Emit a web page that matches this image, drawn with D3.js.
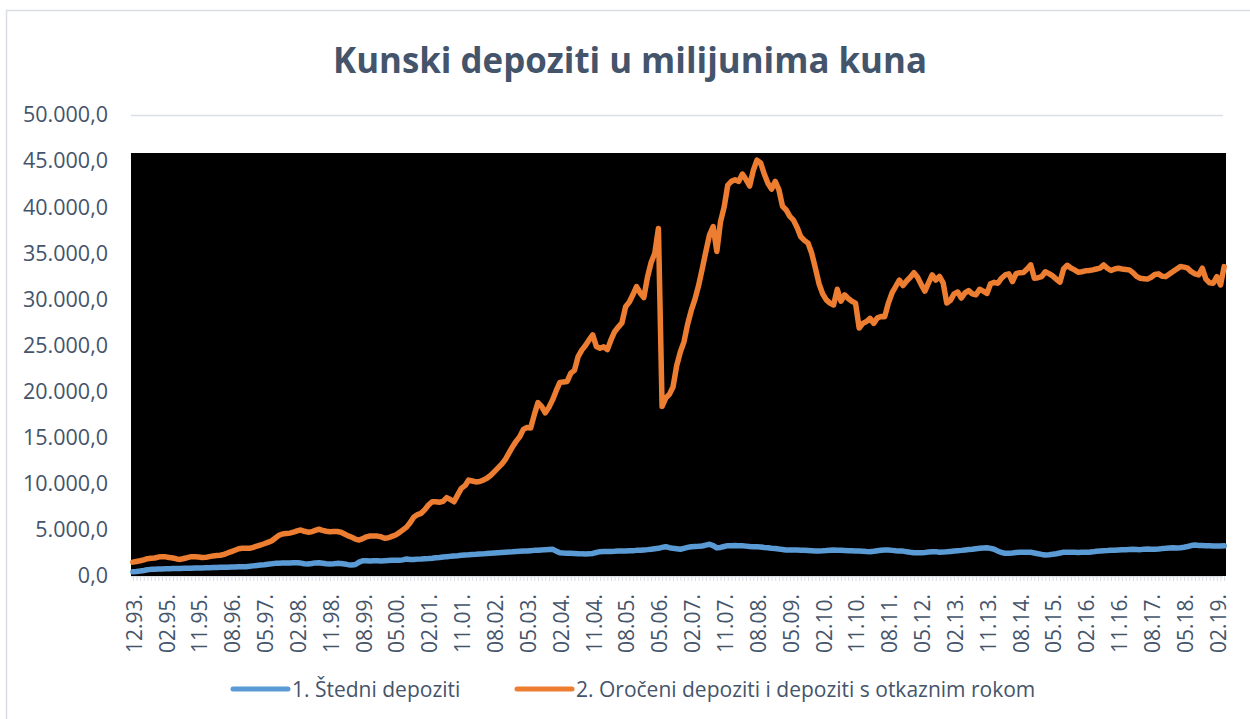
<!DOCTYPE html>
<meta charset="utf-8">

<script src="https://cdn.jsdelivr.net/npm/d3@7"></script>

<div id="my_dataviz"></div>
<style>
    body { margin: 0; background: white; }
    text { font-family: "Open Sans", sans-serif; fill: #44546A; }
</style>

<script>
    // month labels: 12.93, then monthly 06.94 .. 04.19
    var startLabel = "12.93.";
    var firstMonth = { month: 6, year: 1994 };
    var monthCount = 299;

    // labels shown on the x axis
    var tickLabels = ["12.93.", "02.95.", "11.95.", "08.96.", "05.97.", "02.98.", "11.98.", "08.99.",
        "05.00.", "02.01.", "11.01.", "08.02.", "05.03.", "02.04.", "11.04.", "08.05.", "05.06.",
        "02.07.", "11.07.", "08.08.", "05.09.", "02.10.", "11.10.", "08.11.", "05.12.", "02.13.",
        "11.13.", "08.14.", "05.15.", "02.16.", "11.16.", "08.17.", "05.18.", "02.19."];

    var yTicks = [0, 5000, 10000, 15000, 20000, 25000, 30000, 35000, 40000, 45000, 50000];

    var seriesNames = ["1. Štedni depoziti", "2. Oročeni depoziti i depoziti s otkaznim rokom"];

    var stedni = [
        470, 500, 540, 600, 680, 720, 740, 760, 770, 780,
        790, 800, 810, 820, 830, 840, 850, 860, 870, 880,
        890, 900, 910, 920, 940, 950, 960, 970, 980, 990,
        1000, 1010, 1050, 1100, 1150, 1190, 1230, 1280, 1320, 1370,
        1390, 1400, 1410, 1420, 1440, 1440, 1400, 1330, 1300, 1350,
        1420, 1440, 1380, 1320, 1300, 1330, 1370, 1360, 1300, 1230,
        1190, 1250, 1500, 1660, 1650, 1640, 1660, 1650, 1640, 1660,
        1680, 1700, 1720, 1700, 1750, 1850, 1800, 1780, 1830, 1850,
        1880, 1900, 1930, 1970, 2000, 2050, 2100, 2130, 2170, 2200,
        2240, 2280, 2300, 2330, 2350, 2380, 2400, 2430, 2460, 2490,
        2520, 2550, 2580, 2600, 2620, 2650, 2680, 2700, 2720, 2750,
        2780, 2800, 2830, 2860, 2880, 2900, 2700, 2530, 2500, 2480,
        2460, 2440, 2420, 2400, 2390, 2400, 2450, 2550, 2640, 2650,
        2660, 2670, 2680, 2700, 2710, 2720, 2740, 2750, 2780, 2800,
        2830, 2860, 2900, 2950, 3000, 3100, 3180, 3070, 3000, 2950,
        2900, 3000, 3100, 3180, 3200, 3220, 3250, 3350, 3440, 3300,
        3050, 3100, 3200, 3290, 3290, 3300, 3290, 3270, 3240, 3200,
        3180, 3170, 3150, 3100, 3070, 3020, 2980, 2920, 2870, 2820,
        2810, 2820, 2820, 2800, 2780, 2760, 2740, 2720, 2710, 2730,
        2760, 2800, 2820, 2800, 2780, 2760, 2740, 2730, 2720, 2710,
        2690, 2660, 2640, 2680, 2740, 2790, 2820, 2820, 2780, 2740,
        2710, 2700, 2640, 2580, 2530, 2520, 2530, 2560, 2600, 2630,
        2640, 2570, 2590, 2620, 2660, 2700, 2740, 2780, 2830, 2870,
        2900, 2950, 3000, 3040, 3070, 3000, 2900, 2700, 2550, 2460,
        2470, 2500, 2540, 2570, 2570, 2580, 2570, 2500, 2420, 2340,
        2280, 2300, 2350, 2420, 2500, 2570, 2580, 2580, 2570, 2560,
        2570, 2580, 2570, 2620, 2680, 2720, 2750, 2760, 2780, 2800,
        2820, 2840, 2860, 2880, 2900, 2880, 2860, 2900, 2920, 2900,
        2900, 2930, 2970, 3000, 3040, 3070, 3050, 3070, 3120, 3200,
        3300, 3360, 3320, 3300, 3280, 3270, 3260, 3250, 3250, 3270
    ];

    var oroceni = [
        1500, 1580, 1650, 1750, 1880, 1930, 1950, 2050, 2100, 2080,
        2000, 1950, 1850, 1800, 1900, 2000, 2100, 2080, 2050, 2000,
        2020, 2100, 2180, 2220, 2250, 2350, 2500, 2640, 2800, 2950,
        3000, 3020, 3000, 3100, 3250, 3360, 3500, 3650, 3800, 4100,
        4400, 4550, 4600, 4650, 4750, 4900, 4990, 4850, 4750, 4800,
        4950, 5070, 4950, 4850, 4800, 4820, 4830, 4750, 4550, 4350,
        4200, 4000, 3900, 4050, 4250, 4340, 4350, 4330, 4250, 4100,
        4150, 4300, 4450, 4700, 5000, 5300, 5800, 6400, 6650, 6800,
        7200, 7700, 8050, 8050, 8000, 8100, 8500, 8300, 8050, 8800,
        9500, 9800, 10400, 10300, 10200, 10250, 10400, 10600, 10900, 11300,
        11700, 12100, 12600, 13300, 14000, 14600, 15100, 15900, 16100, 16050,
        17500, 18800, 18400, 17700, 18300, 19100, 20100, 21000, 21050, 21100,
        22000, 22300, 23800, 24500, 25000, 25600, 26150, 24900, 24700, 24850,
        24550, 25600, 26500, 27000, 27450, 29200, 29700, 30500, 31400, 30700,
        30200, 32400, 34000, 35000, 37700, 18400, 19300, 19700, 20500, 22800,
        24300, 25400, 27300, 28800, 30000, 31500, 33300, 35200, 37000, 37900,
        35200, 38400, 40000, 42400, 42800, 42970, 42800, 43600, 43000, 42300,
        44000, 45100, 44800, 43600, 42600, 41960, 42800, 41900, 40100, 39700,
        39000, 38600, 37800, 36800, 36400, 36100, 35000, 33400, 31700, 30600,
        29950, 29600, 29400, 31100, 29800, 30500, 30100, 29800, 29600, 26900,
        27400, 27600, 27950, 27400, 28000, 28150, 28130, 29600, 30700, 31400,
        32100, 31500, 32000, 32400, 32900, 32400, 31600, 30900, 31800, 32650,
        32100, 32500, 31800, 29600, 29900, 30600, 30800, 30150, 30700, 30950,
        30600, 30500, 31100, 30900, 30650, 31700, 31850, 31750, 32300, 32650,
        32770, 31930, 32800, 32900, 32920, 33300, 33740, 32300, 32350, 32470,
        33000, 32800, 32550, 32200, 31860, 33300, 33700, 33400, 33200, 32950,
        33000, 33100, 33130, 33200, 33300, 33400, 33740, 33380, 33130, 33300,
        33380, 33300, 33250, 33200, 32900, 32500, 32300, 32250, 32200, 32400,
        32700, 32770, 32500, 32470, 32750, 33020, 33300, 33560, 33500, 33380,
        33000, 32770, 32660, 33380, 32200, 31800, 31750, 32470, 31570, 33560
    ];

    var colors = ["#5B9BD5", "#ED7D31"];

    // build category labels
    var categories = [startLabel];
    for (var k = 0; k < monthCount; k++) {
        var m = (firstMonth.month - 1 + k) % 12 + 1;
        var yr = firstMonth.year + Math.floor((firstMonth.month - 1 + k) / 12);
        categories.push((m < 10 ? "0" : "") + m + "." + String(yr).slice(2) + ".");
    }

    var W = 1250, H = 719;
    var plot = { left: 131, right: 1226, top: 115, bottom: 576, blackTop: 153 };

    var svg = d3.select("#my_dataviz")
        .append("svg")
        .attr("width", W)
        .attr("height", H);

    // chart border (only left and top fall inside the picture)
    svg.append("rect")
        .attr("x", 6.5).attr("y", 10.5)
        .attr("width", 1400).attr("height", 900)
        .attr("fill", "white")
        .attr("stroke", "#D9DDE3")
        .attr("stroke-width", 1.5);

    var x = d3.scalePoint()
        .domain(categories)
        .range([plot.left, plot.right])
        .padding(0.5);

    var y = d3.scaleLinear()
        .domain([0, 50000])
        .range([plot.bottom, plot.top]);

    var fmt = function(v) {
        var s = d3.format(",.1f")(v);
        return s.replace(/,/g, "#").replace(".", ",").replace(/#/g, ".");
    };

    // gridlines
    svg.append("g")
        .selectAll("line")
        .data(yTicks)
        .enter()
        .append("line")
        .attr("x1", plot.left)
        .attr("x2", plot.right - 3)
        .attr("y1", function(d) { return y(d) + 0.5; })
        .attr("y2", function(d) { return y(d) + 0.5; })
        .attr("stroke", "#DCE0E6")
        .attr("stroke-width", 1.5);

    // black plot fill
    svg.append("rect")
        .attr("x", plot.left)
        .attr("y", plot.blackTop)
        .attr("width", plot.right - plot.left)
        .attr("height", plot.bottom - plot.blackTop)
        .attr("fill", "black");

    // Y axis labels
    var yAxis = svg.append("g")
        .attr("transform", "translate(" + (plot.left - 16) + ",0)")
        .call(d3.axisLeft(y).tickValues(yTicks).tickSize(0).tickFormat(fmt));
    yAxis.select(".domain").remove();
    yAxis.selectAll("text")
        .attr("x", -7)
        .style("font-size", "21.5px")
        .style("font-family", "Open Sans, sans-serif")
        .attr("fill", "#44546A");

    // X axis: tick marks at every category
    var xAxis = svg.append("g")
        .attr("transform", "translate(0," + plot.bottom + ")")
        .call(d3.axisBottom(x).tickSize(5).tickFormat(""));
    xAxis.select(".domain").remove();
    xAxis.selectAll("line").attr("stroke", "#D6DCE4");

    svg.append("g")
        .selectAll("text")
        .data(tickLabels)
        .enter()
        .append("text")
        .attr("transform", function(d, i) {
            return "translate(" + (x(categories[i * 9]) + 1.5) + "," + (plot.bottom + 18) + ") rotate(-90)";
        })
        .attr("text-anchor", "end")
        .attr("dy", "0.35em")
        .style("font-size", "21px")
        .text(function(d) { return d; });

    // lines
    var line = d3.line()
        .x(function(d, i) { return x(categories[i]); })
        .y(function(d) { return y(d); });

    [stedni, oroceni].forEach(function(s, k) {
        svg.append("path")
            .datum(s)
            .attr("fill", "none")
            .attr("stroke", colors[k])
            .attr("stroke-width", 5.5)
            .attr("stroke-linejoin", "round")
            .attr("stroke-linecap", "round")
            .attr("d", line);
    });

    // title
    var title = svg.append("text")
        .attr("x", 630)
        .attr("y", 73)
        .attr("text-anchor", "middle")
        .style("font-size", "32px")
        .style("font-weight", "bold")
        .text("Kunski depoziti u milijunima kuna");
    var tw = title.node().getComputedTextLength();
    title.style("font-size", (32 * 594 / tw) + "px");

    // legend
    var legendX = [233, 517];
    seriesNames.forEach(function(name, k) {
        svg.append("line")
            .attr("x1", legendX[k]).attr("x2", legendX[k] + 55)
            .attr("y1", 689).attr("y2", 689)
            .attr("stroke", colors[k])
            .attr("stroke-width", 5)
            .attr("stroke-linecap", "round");
        svg.append("text")
            .attr("x", legendX[k] + 59)
            .attr("y", 697)
            .style("font-size", "21px")
            .text(name);
    });
</script>
